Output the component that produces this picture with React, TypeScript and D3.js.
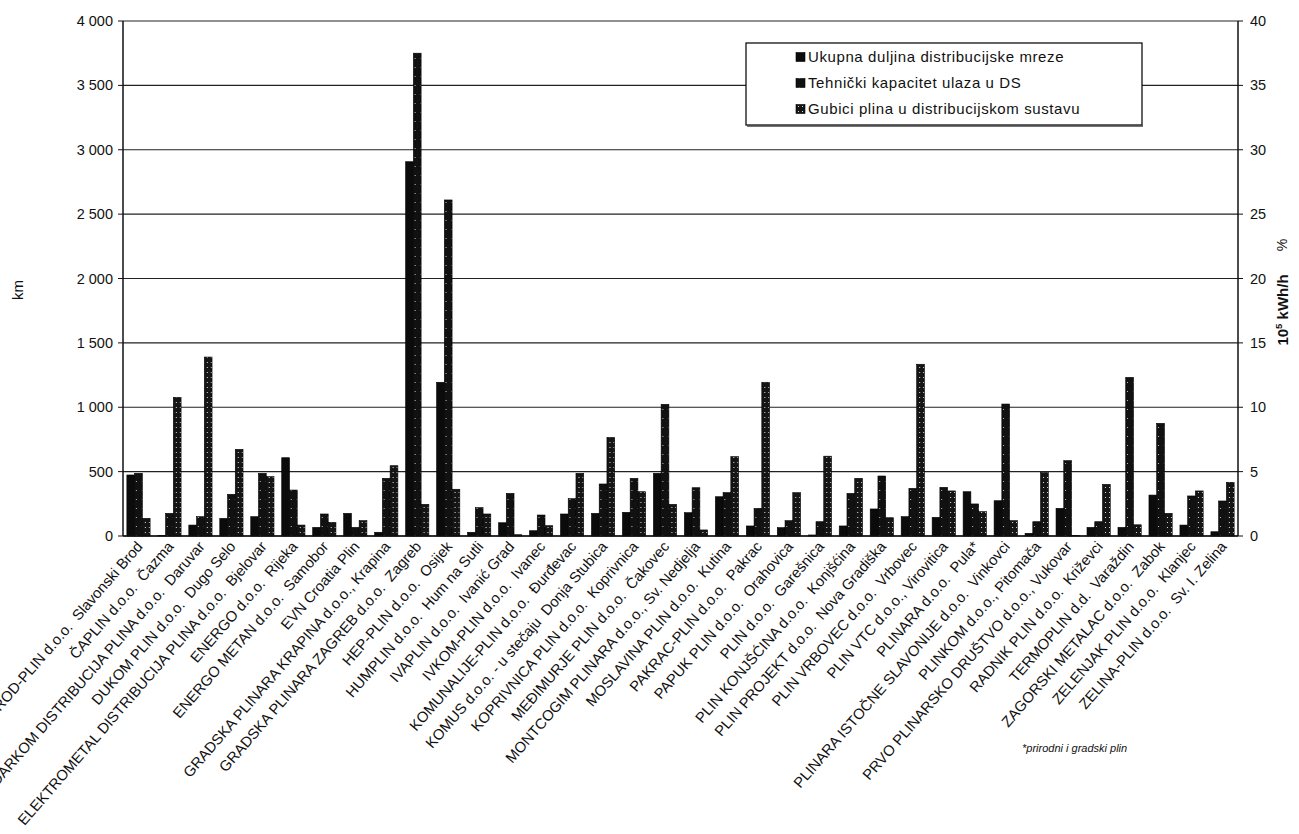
import React from "react";
import * as d3 from "d3";

const categories = [
  "BROD-PLIN d.o.o.  Slavonski Brod",
  "ČAPLIN d.o.o.  Čazma",
  "DARKOM DISTRIBUCIJA PLINA d.o.o.  Daruvar",
  "DUKOM PLIN d.o.o.  Dugo Selo",
  "ELEKTROMETAL DISTRIBUCIJA PLINA d.o.o.  Bjelovar",
  "ENERGO d.o.o.  Rijeka",
  "ENERGO METAN d.o.o.  Samobor",
  "EVN Croatia Plin",
  "GRADSKA PLINARA KRAPINA d.o.o., Krapina",
  "GRADSKA PLINARA ZAGREB d.o.o.  Zagreb",
  "HEP-PLIN d.o.o.  Osijek",
  "HUMPLIN d.o.o.  Hum na Sutli",
  "IVAPLIN d.o.o.  Ivanić Grad",
  "IVKOM-PLIN d.o.o.  Ivanec",
  "KOMUNALIJE-PLIN d.o.o.  Đurđevac",
  "KOMUS d.o.o. - u stečaju  Donja Stubica",
  "KOPRIVNICA PLIN d.o.o.  Koprivnica",
  "MEĐIMURJE PLIN d.o.o.  Čakovec",
  "MONTCOGIM PLINARA d.o.o., Sv. Nedjelja",
  "MOSLAVINA PLIN d.o.o.  Kutina",
  "PAKRAC-PLIN d.o.o.  Pakrac",
  "PAPUK PLIN d.o.o.  Orahovica",
  "PLIN d.o.o.  Garešnica",
  "PLIN KONJŠĆINA d.o.o.  Konjšćina",
  "PLIN PROJEKT d.o.o.  Nova Gradiška",
  "PLIN VRBOVEC d.o.o.  Vrbovec",
  "PLIN VTC d.o.o., Virovitica",
  "PLINARA d.o.o.  Pula*",
  "PLINARA ISTOČNE SLAVONIJE d.o.o.  Vinkovci",
  "PLINKOM d.o.o., Pitomača",
  "PRVO PLINARSKO DRUŠTVO d.o.o., Vukovar",
  "RADNIK PLIN d.o.o.  Križevci",
  "TERMOPLIN d.d.  Varaždin",
  "ZAGORSKI METALAC d.o.o.  Zabok",
  "ZELENJAK PLIN d.o.o.  Klanjec",
  "ZELINA-PLIN d.o.o.  Sv. I. Zelina",
];

// km (left axis)
const networkLength = [474, 5, 85, 137, 150, 608, 67, 176, 29, 2907, 1194, 29, 103, 41, 171, 176, 184, 487, 181, 305, 78, 65, 8, 78, 210, 150, 145, 344, 274, 21, 215, 67, 67, 318, 85, 33];
// 10^5 kWh/h (right axis)
const capacity = [4.87, 1.76, 1.5, 3.24, 4.87, 3.57, 1.71, 0.67, 4.48, 37.5, 26.1, 2.2, 3.31, 1.63, 2.9, 4.04, 4.48, 10.23, 3.75, 3.37, 2.15, 1.19, 1.11, 3.31, 4.66, 3.7, 3.78, 2.49, 10.25, 1.11, 5.85, 1.11, 12.32, 8.75, 3.11, 2.72];
// % (right axis)
const losses = [1.37, 10.77, 13.9, 6.73, 4.61, 0.85, 1.06, 1.19, 5.46, 2.46, 3.63, 1.71, 0.1, 0.8, 4.87, 7.66, 3.44, 2.46, 0.47, 6.16, 11.94, 3.37, 6.2, 4.48, 1.42, 13.34, 3.5, 1.89, 1.19, 4.92, 0.05, 4.01, 0.87, 1.76, 3.5, 4.17];

const seriesNames = [
  "Ukupna duljina distribucijske mreze",
  "Tehnički kapacitet ulaza u DS",
  "Gubici plina u distribucijskom sustavu",
];

const leftTicks = [0, 500, 1000, 1500, 2000, 2500, 3000, 3500, 4000];
const rightTicks = [0, 5, 10, 15, 20, 25, 30, 35, 40];

const FONT = "'Liberation Sans', Arial, Helvetica, sans-serif";

export default function App() {
  const W = 1299, H = 834;
  const left = 123, right = 1238, top = 21, bottom = 536;

  const x = d3.scaleBand<string>().domain(categories).range([left, right]).paddingInner(0.25).paddingOuter(0.125);
  const xi = d3.scaleBand<number>().domain([0, 1, 2]).range([0, x.bandwidth()]);
  const yL = d3.scaleLinear().domain([0, 4000]).range([bottom, top]);
  const yR = d3.scaleLinear().domain([0, 40]).range([bottom, top]);

  const locale = d3.formatLocale({ decimal: ",", thousands: " ", grouping: [3], currency: ["", ""] });
  const fmt = locale.format(",");

  const fills = ["#0b0b0b", "url(#pat2)", "url(#pat3)"];

  const rows = categories.map((c, i) => ({ c, vals: [yL(networkLength[i]), yR(capacity[i]), yR(losses[i])] }));

  return (
    <svg width={W} height={H} style={{ position: "absolute", left: 0, top: 0, background: "#fff" }} fontFamily={FONT}>
      <defs>
        <pattern id="pat2" width="6" height="9" patternUnits="userSpaceOnUse">
          <rect width="6" height="9" fill="#111" />
          <rect x="3" y="4" width="1" height="1" fill="#bbb" />
        </pattern>
        <pattern id="pat3" width="4" height="5" patternUnits="userSpaceOnUse">
          <rect width="4" height="5" fill="#151515" />
          <rect x="2" y="2" width="1" height="1" fill="#ddd" />
        </pattern>
      </defs>

      {/* gridlines */}
      {leftTicks.map((t) => (
        <line key={"g" + t} x1={left} x2={right} y1={yL(t)} y2={yL(t)} stroke="#222" strokeWidth={1.2} />
      ))}

      {/* bars */}
      {rows.map((r, i) => (
        <g key={i} transform={`translate(${x(r.c)},0)`}>
          {r.vals.map((v, k) => (
            <rect key={k} x={xi(k)} y={v} width={xi.bandwidth()} height={bottom - v} fill={fills[k]} stroke="#000" strokeWidth={0.6} />
          ))}
        </g>
      ))}

      {/* frame */}
      <line x1={left} x2={left} y1={top} y2={bottom} stroke="#111" strokeWidth={1.5} />
      <line x1={right} x2={right} y1={top} y2={bottom} stroke="#111" strokeWidth={1.5} />
      <line x1={left} x2={right} y1={bottom} y2={bottom} stroke="#111" strokeWidth={1.5} />

      {/* left axis */}
      {leftTicks.map((t) => (
        <g key={"l" + t}>
          <line x1={left - 5} x2={left} y1={yL(t)} y2={yL(t)} stroke="#111" />
          <text x={113} y={yL(t)} dy="0.35em" textAnchor="end" fontSize={14.5} fill="#111">{fmt(t)}</text>
        </g>
      ))}
      {/* right axis */}
      {rightTicks.map((t) => (
        <g key={"r" + t}>
          <line x1={right} x2={right + 5} y1={yR(t)} y2={yR(t)} stroke="#111" />
          <text x={1250} y={yR(t)} dy="0.35em" textAnchor="start" fontSize={14.5} fill="#111">{t}</text>
        </g>
      ))}

      <text transform="translate(23,290) rotate(-90)" textAnchor="middle" fontSize={15} fill="#111">km</text>
      <text transform="translate(1287,245) rotate(-90)" textAnchor="middle" fontSize={14} fill="#111">%</text>
      <text transform="translate(1288,310) rotate(-90)" textAnchor="middle" fontSize={15} fontWeight="bold" fill="#111">
        10<tspan fontSize={9.5} dy="-6">5</tspan><tspan dy="6"> kWh/h</tspan>
      </text>

      {/* category labels */}
      {categories.map((c) => (
        <text key={c} transform={`translate(${(x(c) as number) + x.bandwidth() / 2 + 5},${547}) rotate(-49)`} textAnchor="end" fontSize={14.8} fill="#111" style={{ whiteSpace: "pre" }}>
          {c}
        </text>
      ))}

      {/* legend */}
      <rect x={746} y={43} width={396} height={82} fill="#fff" stroke="#111" strokeWidth={1.3} />
      <line x1={747} x2={1143} y1={126} y2={126} stroke="#444" strokeWidth={1.5} />
      {seriesNames.map((s, k) => (
        <g key={s} transform={`translate(796,${57 + k * 26})`}>
          <rect x={0} y={-4.5} width={9} height={9} fill={fills[k]} stroke="#000" strokeWidth={0.6} />
          <text x={12} y={0} dy="0.35em" fontSize={15} letterSpacing={0.6} fill="#111">{s}</text>
        </g>
      ))}

      <text x={1022} y={752} fontSize={11} fontStyle="italic" fill="#111">*prirodni i gradski plin</text>
    </svg>
  );
}
